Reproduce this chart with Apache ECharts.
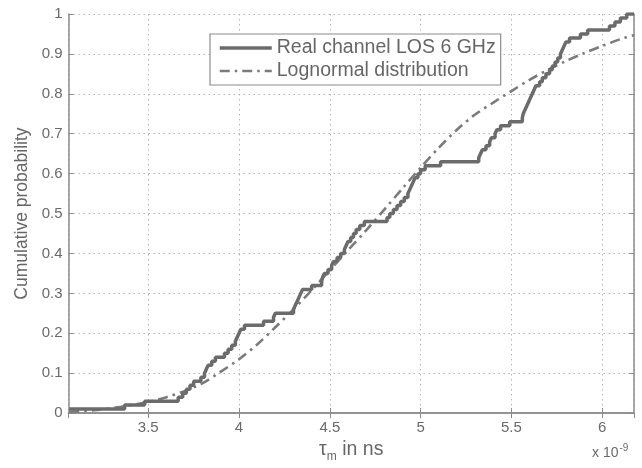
<!DOCTYPE html>
<html>
<head>
<meta charset="utf-8">
<script src="https://cdn.jsdelivr.net/npm/echarts@6/dist/echarts.min.js"></script>
<style>
html,body{margin:0;padding:0;background:#ffffff;}
#chart{width:642px;height:468px;}
</style>
</head>
<body>
<div id="chart"></div>
<script>
// Empirical CDF of measured tau_m (x in units of 1e-9 s): jump positions and levels
const realX = [3.065, 3.37, 3.48, 3.665, 3.69, 3.71, 3.73, 3.75, 3.79, 3.81, 3.82, 3.83, 3.85, 3.87, 3.92, 3.94, 3.96, 3.98, 3.99, 4.00, 4.01, 4.03,
  4.135, 4.19, 4.20, 4.30, 4.31, 4.32, 4.33, 4.34, 4.35, 4.40, 4.455, 4.46, 4.47, 4.49, 4.51, 4.52, 4.54, 4.56, 4.58, 4.59, 4.60, 4.615, 4.63, 4.645, 4.665, 4.69,
  4.815, 4.83, 4.85, 4.87, 4.89, 4.91, 4.93, 4.94, 4.95, 4.96, 4.97, 4.985, 5.0, 5.025,
  5.11, 5.32, 5.33, 5.34, 5.36, 5.38, 5.39, 5.41, 5.42, 5.44, 5.49,
  5.56, 5.565, 5.575, 5.585, 5.595, 5.605, 5.615, 5.625, 5.635, 5.655, 5.67, 5.69, 5.71, 5.725, 5.74, 5.755, 5.77, 5.78, 5.79, 5.80, 5.82,
  5.88, 5.92, 6.04, 6.07, 6.10, 6.135, 6.175];
const realY = [0.01, 0.02, 0.03, 0.04, 0.05, 0.06, 0.07, 0.08, 0.09, 0.10, 0.11, 0.12, 0.13, 0.14, 0.15, 0.16, 0.17, 0.18, 0.19, 0.20, 0.21, 0.22,
  0.23, 0.24, 0.25, 0.26, 0.27, 0.28, 0.29, 0.30, 0.31, 0.32, 0.33, 0.34, 0.35, 0.36, 0.37, 0.38, 0.39, 0.40, 0.41, 0.42, 0.43, 0.44, 0.45, 0.46, 0.47, 0.48,
  0.49, 0.50, 0.51, 0.52, 0.53, 0.54, 0.55, 0.56, 0.57, 0.58, 0.59, 0.60, 0.61, 0.62,
  0.63, 0.64, 0.65, 0.66, 0.67, 0.68, 0.69, 0.70, 0.71, 0.72, 0.73,
  0.74, 0.75, 0.76, 0.77, 0.78, 0.79, 0.80, 0.81, 0.82, 0.83, 0.84, 0.85, 0.86, 0.87, 0.88, 0.89, 0.90, 0.91, 0.92, 0.93, 0.94,
  0.95, 0.96, 0.97, 0.98, 0.99, 1.00, 1.00];

// Fitted lognormal CDF
const lognX = [3.065, 3.2, 3.35, 3.5, 3.6, 3.7, 3.8, 3.9, 4.0, 4.1, 4.2, 4.3, 4.4, 4.5, 4.6, 4.7, 4.8, 4.9, 5.0, 5.1, 5.2, 5.3, 5.4, 5.5, 5.6, 5.7, 5.8, 5.9, 6.0, 6.1, 6.175];
const lognY = [0.003, 0.007, 0.016, 0.028, 0.04, 0.055, 0.075, 0.104, 0.135, 0.172, 0.215, 0.26, 0.308, 0.358, 0.408, 0.458, 0.51, 0.563, 0.615, 0.665, 0.71, 0.748, 0.778, 0.807, 0.835, 0.86, 0.882, 0.902, 0.92, 0.937, 0.947];

const xMin = 3.061, xMax = 6.175;
const seriesNames = ['Real channel LOS 6 GHz', 'Lognormal distribution'];

const realData = realX.map((x, i) => [x, realY[i]]);
const lognData = lognX.map((x, i) => [x, lognY[i]]);

const txt = '#6a6a6a';
const axisCol = '#8c8c8c';
const font = 'Liberation Sans, Arial, sans-serif';

const chart = echarts.init(document.getElementById('chart'), null, {renderer: 'canvas'});
chart.setOption({
  backgroundColor: '#ffffff',
  animation: false,
  textStyle: {fontFamily: font, color: txt},
  grid: {left: 68.5, top: 14, right: 8, bottom: 46.3, containLabel: false},
  legend: {
    orient: 'vertical',
    left: 210,
    top: 34,
    padding: [4, 5, 4, 8],
    itemGap: 3,
    itemWidth: 52,
    itemHeight: 14,
    borderColor: '#8c8c8c',
    borderWidth: 1.2,
    backgroundColor: '#ffffff',
    itemStyle: {opacity: 0, borderWidth: 0},
    textStyle: {fontSize: 19.5, color: '#666', fontFamily: font},
    data: [
      {name: seriesNames[0], lineStyle: {width: 3.5, color: '#6b6b6b', type: 'solid'}},
      {name: seriesNames[1], lineStyle: {width: 2.6, color: '#7b7b7b', type: [10, 5, 2.5, 5]}}
    ]
  },
  xAxis: [{
    type: 'value', min: xMin, max: xMax, splitNumber: 6,
    name: 'τ{sub|m} in ns',
    nameLocation: 'middle', nameGap: 14,
    nameTextStyle: {fontSize: 19.5, color: '#666', fontFamily: font,
      rich: {sub: {fontSize: 12, color: '#666', fontFamily: font, padding: [14, 0, 0, 0]}}},
    axisLine: {show: true, lineStyle: {color: axisCol, width: 1.5}},
    axisTick: {show: true, inside: true, length: 5, lineStyle: {color: axisCol}},
    axisLabel: {show: true, showMinLabel: false, showMaxLabel: false, margin: 7, fontSize: 15, color: txt, fontFamily: font},
    splitLine: {show: true, lineStyle: {color: '#b5b5b5', type: [1.5, 3.5], width: 1}}
  }, {
    type: 'value', min: xMin, max: xMax, splitNumber: 6, position: 'top',
    axisLine: {show: true, lineStyle: {color: axisCol, width: 1.5}},
    axisTick: {show: true, inside: true, length: 5, lineStyle: {color: axisCol}},
    axisLabel: {show: false},
    splitLine: {show: false}
  }],
  yAxis: [{
    type: 'value', min: 0, max: 1, interval: 0.1,
    name: 'Cumulative probability',
    nameLocation: 'middle', nameGap: 36,
    nameTextStyle: {fontSize: 17.5, color: '#666', fontFamily: font},
    axisLine: {show: true, lineStyle: {color: axisCol, width: 1.5}},
    axisTick: {show: true, inside: true, length: 5, lineStyle: {color: axisCol}},
    axisLabel: {show: true, margin: 6, fontSize: 15, color: txt, fontFamily: font},
    splitLine: {show: true, lineStyle: {color: '#b5b5b5', type: [1.5, 3.5], width: 1}}
  }, {
    type: 'value', min: 0, max: 1, interval: 0.1, position: 'right',
    axisLine: {show: true, lineStyle: {color: axisCol, width: 1.5}},
    axisTick: {show: true, inside: true, length: 5, lineStyle: {color: axisCol}},
    axisLabel: {show: false},
    splitLine: {show: false}
  }],
  graphic: [{
    type: 'text', left: 592, top: 443,
    style: {
      text: 'x 10{sup|-9}',
      fontSize: 14, fill: txt, fontFamily: font,
      rich: {sup: {fontSize: 10, fill: txt, fontFamily: font, padding: [0, 0, 10, 1]}}
    }
  }],
  series: [{
    name: seriesNames[1],
    type: 'line', xAxisIndex: 0, yAxisIndex: 0,
    data: lognData, smooth: 0.3, showSymbol: false, symbol: 'none',
    lineStyle: {color: '#7b7b7b', width: 2.6, type: [10, 5, 2.5, 5]},
    itemStyle: {color: '#7b7b7b'},
    z: 2
  }, {
    name: seriesNames[0],
    type: 'line', xAxisIndex: 0, yAxisIndex: 0,
    data: realData, step: 'end', showSymbol: false, symbol: 'none',
    lineStyle: {color: '#6b6b6b', width: 3.5},
    itemStyle: {color: '#6b6b6b'},
    z: 3
  }]
});
</script>
</body>
</html>
